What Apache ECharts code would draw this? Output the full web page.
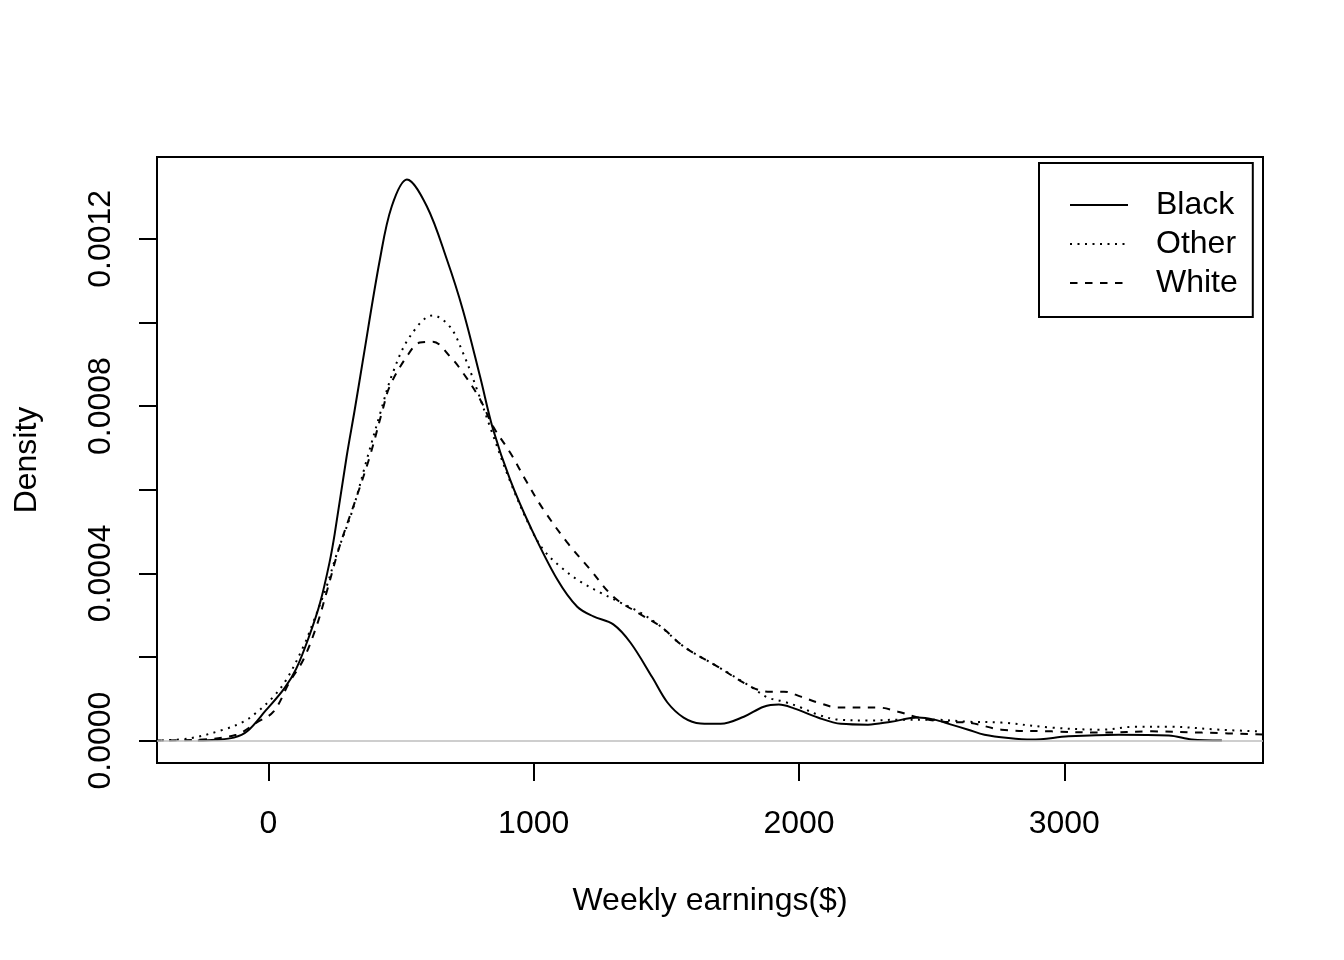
<!DOCTYPE html>
<html>
<head>
<meta charset="utf-8">
<script src="https://cdn.jsdelivr.net/npm/echarts@6/dist/echarts.min.js"></script>
<style>
  html, body { margin: 0; padding: 0; background: #ffffff; }
  #chart { width: 1344px; height: 960px; }
</style>
</head>
<body>
<div id="chart"></div>
<script>
// ---- Data ----
const seriesNames = ['Black', 'Other', 'White'];

const blackX = [-266, -200, -130, -80, -10, 60, 105, 155, 195, 230, 250, 295, 325, 355, 420, 465, 522, 597, 673, 733, 798, 847, 911, 987, 1089, 1164, 1225, 1300, 1365, 1448, 1504, 1565, 1629, 1705, 1792, 1867, 1924, 1981, 2071, 2158, 2260, 2347, 2449, 2510, 2574, 2638, 2699, 2790, 2877, 3016, 3205, 3394, 3481, 3594];
const blackY = [0, 0.000002, 0.000007, 0.000022, 0.000072, 0.000125, 0.000172, 0.000252, 0.00033, 0.000425, 0.000495, 0.00068, 0.00079, 0.000905, 0.00115, 0.001278, 0.001342, 0.001278, 0.00115, 0.00103, 0.00087, 0.000744, 0.000624, 0.000512, 0.000385, 0.00032, 0.000297, 0.000278, 0.000234, 0.00015, 0.000091, 0.000055, 0.000041, 0.00004, 0.000057, 0.000081, 0.000086, 0.000077, 0.000055, 0.00004, 0.000038, 0.000045, 0.000055, 0.00005, 0.000038, 0.000026, 0.000014, 0.000006, 0.0000024, 0.00001, 0.000014, 0.000012, 0.0000024, 0];

const otherX = [-430, -300, -170, -94, -45, 19, 68, 132, 170, 219, 257, 318, 370, 420, 469, 533, 620, 684, 733, 786, 835, 911, 987, 1036, 1100, 1176, 1251, 1327, 1402, 1478, 1565, 1693, 1818, 1882, 1943, 2007, 2071, 2147, 2260, 2385, 2510, 2638, 2763, 2952, 3141, 3266, 3394, 3584, 3770];
const otherY = [0, 0.000005, 0.000026, 0.000045, 0.000067, 0.000105, 0.000146, 0.000225, 0.000285, 0.000368, 0.000445, 0.000553, 0.00067, 0.00078, 0.00088, 0.000966, 0.001017, 0.00099, 0.000928, 0.00084, 0.000751, 0.00062, 0.00051, 0.000457, 0.000416, 0.00038, 0.000354, 0.00033, 0.000306, 0.000273, 0.000225, 0.000177, 0.000129, 0.000103, 0.000093, 0.000079, 0.000062, 0.00005, 0.000048, 0.00005, 0.00005, 0.000045, 0.000043, 0.000031, 0.000026, 0.000033, 0.000033, 0.000026, 0.000021];

const whiteX = [-430, -261, -121, -45, 19, 79, 132, 181, 219, 268, 333, 382, 431, 457, 522, 571, 620, 684, 733, 798, 847, 911, 975, 1036, 1126, 1213, 1300, 1391, 1478, 1565, 1693, 1818, 1882, 1943, 2007, 2071, 2147, 2223, 2298, 2374, 2449, 2548, 2638, 2763, 2952, 3141, 3330, 3519, 3770];
const whiteY = [0, 0.000002, 0.000014, 0.000043, 0.000069, 0.000139, 0.000194, 0.000273, 0.000354, 0.000464, 0.000584, 0.000679, 0.000792, 0.000847, 0.000919, 0.000952, 0.000954, 0.000919, 0.00088, 0.000816, 0.000751, 0.000689, 0.000617, 0.000553, 0.000474, 0.000409, 0.000344, 0.000306, 0.000273, 0.000225, 0.000177, 0.000129, 0.000117, 0.000117, 0.000105, 0.000091, 0.000079, 0.000079, 0.000079, 0.000069, 0.000055, 0.000045, 0.000043, 0.000026, 0.000022, 0.000019, 0.000022, 0.000019, 0.000014];

const xTicks = [0, 1000, 2000, 3000];
const yTicks = [0, 0.0002, 0.0004, 0.0006, 0.0008, 0.001, 0.0012];
const yLabels = [0, 0.0004, 0.0008, 0.0012];

// ---- Chart ----
const zip = (xs, ys) => xs.map((x, i) => [x, ys[i]]);
const FONT = 'Liberation Sans, Arial, sans-serif';
const FS = 32;
const chart = echarts.init(document.getElementById('chart'), null, { renderer: 'canvas' });

const lineBase = { type: 'line', showSymbol: false, symbol: 'none', smooth: 0.35, clip: true, silent: true, animation: false };

chart.setOption({
  animation: false,
  backgroundColor: '#ffffff',
  grid: { left: 157, right: 81, top: 157, bottom: 197, show: true, borderColor: '#000', borderWidth: 2, backgroundColor: 'transparent' },
  xAxis: {
    type: 'value', min: -420, max: 3749,
    splitLine: { show: false },
    axisLine: { show: false, onZero: false },
    axisTick: { show: true, length: 18, inside: false, customValues: xTicks, lineStyle: { color: '#000', width: 2 } },
    axisLabel: { show: true, customValues: xTicks, margin: 45, fontSize: FS, color: '#000', fontFamily: FONT,
      formatter: v => String(v) },
    name: 'Weekly earnings($)', nameLocation: 'middle', nameGap: 122,
    nameTextStyle: { fontSize: FS, color: '#000', fontFamily: FONT }
  },
  yAxis: {
    type: 'value', min: -0.0000537, max: 0.0013958,
    splitLine: { show: false },
    axisLine: { show: false, onZero: false },
    axisTick: { show: true, length: 18, inside: false, customValues: yTicks, lineStyle: { color: '#000', width: 2 } },
    axisLabel: { show: true, customValues: yLabels, rotate: 90, margin: 40, fontSize: FS, color: '#000', fontFamily: FONT,
      formatter: v => v.toFixed(4) },
    name: 'Density', nameLocation: 'middle', nameGap: 114, nameRotate: 90,
    nameTextStyle: { fontSize: FS, color: '#000', fontFamily: FONT }
  },
  legend: {
    show: true, orient: 'vertical', left: 1039, top: 163,
    data: seriesNames,
    itemWidth: 58, itemHeight: 14, itemGap: 7,
    padding: [26, 15, 18, 30],
    borderColor: '#000', borderWidth: 2,
    itemStyle: { opacity: 0 },
    textStyle: { fontSize: FS, color: '#000', fontFamily: FONT, lineHeight: 30, padding: [0, 0, 0, 23] },
    selectedMode: false
  },
  series: [
    Object.assign({}, lineBase, {
      name: 'Black', data: zip(blackX, blackY),
      lineStyle: { color: '#000', width: 2, type: 'solid' }, itemStyle: { color: '#000' },
      markLine: { silent: true, symbol: ['none', 'none'], label: { show: false },
        lineStyle: { color: '#bebebe', width: 1.5, type: 'solid' }, data: [{ yAxis: 0 }] }
    }),
    Object.assign({}, lineBase, {
      name: 'Other', data: zip(otherX, otherY),
      lineStyle: { color: '#000', width: 2, type: [2, 5.5] }, itemStyle: { color: '#000' }
    }),
    Object.assign({}, lineBase, {
      name: 'White', data: zip(whiteX, whiteY),
      lineStyle: { color: '#000', width: 2, type: [7.5, 7.5] }, itemStyle: { color: '#000' }
    })
  ]
});
</script>
</body>
</html>
